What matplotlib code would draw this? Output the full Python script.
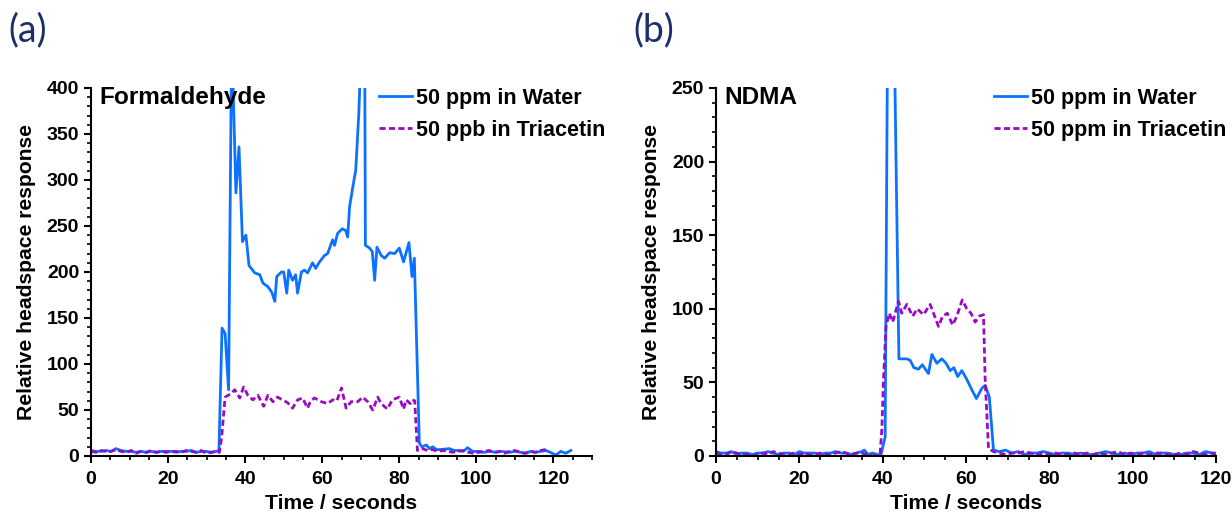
import matplotlib
matplotlib.use("Agg")
import matplotlib.pyplot as plt
from matplotlib.ticker import MultipleLocator

plt.rcParams['font.family'] = ['Liberation Sans', 'DejaVu Sans']
plt.rcParams['font.weight'] = 'bold'

# ---- (a) Formaldehyde ----
water_t_a = [0, 1.3, 2.6, 3.9, 5.2, 6.5, 7.8, 9.1, 10.4, 11.7, 13.0, 14.3, 15.6, 16.9, 18.2, 19.5,
             20.8, 22.1, 23.4, 24.7, 26.0, 27.3, 28.6, 29.9, 31.2, 32.5, 33.2, 34.0, 34.8, 35.7,
             36.5, 37.6, 38.4, 39.3, 40.2, 41.0, 42.5, 43.8, 44.6, 45.9, 46.9, 47.7, 48.2, 49.4,
             50.0, 50.8, 51.3, 52.3, 53.1, 53.6, 54.6, 55.4, 56.2, 57.5, 58.3, 59.3, 60.6, 61.4,
             62.7, 63.2, 64.0, 65.2, 66.1, 66.6, 67.1, 67.8, 68.7, 69.5, 70.3, 71.0, 71.2, 72.3,
             73.0, 73.6, 74.2, 75.3, 76.2, 77.5, 78.8, 80.0, 81.1, 82.5, 83.3, 83.9, 85.2, 85.9,
             87.0, 87.8, 88.7, 89.6, 90.7, 93.0, 94.2, 95.6, 96.6, 97.7, 99.0, 100.5, 102.0,
             103.4, 105.0, 106.5, 108.5, 110.0, 111.5, 112.9, 114.0, 115.3, 116.7, 118.0, 119.2,
             120.6, 121.9, 123.2, 124.5]
water_v_a = [6, 5, 5, 6, 5, 8, 6, 5, 5, 4, 5, 4, 5, 4, 5, 5,
             5, 4, 5, 5, 6, 4, 5, 5, 4, 5, 6, 139, 133, 72,
             460, 286, 336, 233, 240, 207, 199, 197, 188, 184, 178, 168, 195, 200,
             200, 177, 202, 191, 197, 177, 200, 202, 199, 210, 204, 211, 218, 220,
             235, 229, 242, 247, 245, 238, 271, 289, 311, 373, 470, 470, 229, 226,
             222, 191, 227, 218, 215, 221, 220, 226, 211, 232, 195, 215, 14, 10,
             12, 8, 10, 7, 7, 8, 6, 6, 5, 9, 5, 5, 4,
             5, 4, 5, 4, 5, 4, 3, 5, 4, 5, 6, 4,
             1, 5, 3, 6]

tri_t_a = [0, 1.3, 2.6, 3.9, 5.2, 6.5, 7.8, 9.1, 10.4, 11.7, 13.0, 14.3, 15.6, 16.9, 18.2, 19.5,
           20.8, 22.1, 23.4, 24.7, 26.0, 27.3, 28.6, 29.9, 31.2, 32.5, 33.3, 33.9, 34.8, 36.4,
           37.3, 38.6, 39.6, 40.7, 42.0, 43.3, 44.8, 45.9, 47.2, 48.4, 49.7, 51.0, 52.3, 53.6,
           54.9, 56.2, 57.0, 58.0, 59.8, 61.4, 62.7, 63.8, 65.0, 66.2, 67.5, 69.2, 70.5, 71.8,
           73.1, 74.4, 75.3, 76.9, 78.2, 80.0, 81.1, 81.8, 82.8, 83.4, 84.0, 84.7, 86.0, 87.3,
           88.6, 90.0, 91.3, 92.6, 94.0, 95.3, 96.6, 98.0, 99.3, 100.6, 102.0, 103.3, 104.6,
           106.0, 107.3, 108.6, 110.0, 111.3, 112.6, 114.0, 115.3, 116.6, 118.0]
tri_v_a = [5, 4, 6, 5, 5, 7, 5, 4, 6, 3, 5, 4, 6, 4, 5, 4,
           5, 5, 4, 6, 5, 4, 6, 3, 4, 5, 4, 20, 64, 68,
           72, 63, 75, 66, 61, 66, 54, 66, 59, 64, 61, 58, 52, 61,
           63, 52, 60, 63, 59, 57, 61, 60, 74, 52, 59, 59, 64, 59,
           50, 64, 57, 51, 61, 64, 51, 61, 57, 61, 60, 6, 8, 6,
           7, 5, 6, 5, 4, 5, 6, 4, 3, 4, 5, 6, 4,
           5, 3, 5, 6, 4, 3, 5, 4, 6, 7]

# ---- (b) NDMA ----
water_t_b = [0, 1.2, 2.5, 3.7, 5.0, 6.2, 7.5, 8.7, 10.0, 11.2, 12.5, 13.7, 15.0, 16.2, 17.5, 18.7,
             20.0, 21.2, 22.5, 23.7, 25.0, 26.2, 27.5, 28.7, 30.0, 31.2, 32.5, 33.7, 35.0, 35.6,
             36.5, 37.5, 38.7, 39.6, 40.6, 41.2, 42.7, 43.9, 45.8, 46.6, 47.5, 48.6, 49.5, 51.0,
             51.8, 53.0, 54.2, 55.2, 56.2, 57.1, 58.0, 59.0, 60.2, 61.4, 62.5, 63.8, 64.6, 65.6,
             66.6, 68.0, 69.5, 71.0, 72.5, 74.0, 75.5, 77.0, 78.5, 80.0, 81.5, 83.0, 84.5, 86.0,
             87.5, 89.0, 90.5, 92.0, 93.5, 95.0, 96.5, 98.0, 99.5, 101.0, 102.5, 104.0, 105.5,
             107.0, 108.5, 110.0, 111.5, 113.0, 114.5, 116.0, 117.5, 119.0, 120.0]
water_v_b = [3, 2, 2, 3, 1, 2, 2, 1, 2, 2, 3, 2, 1, 2, 2, 1,
             3, 2, 2, 2, 1, 2, 2, 3, 2, 2, 1, 2, 3, 4,
             1, 2, 1, 1, 13, 300, 300, 66, 66, 65, 60, 59, 62, 56,
             69, 63, 66, 63, 58, 60, 54, 58, 52, 45, 39, 46, 48, 40,
             4, 3, 4, 2, 3, 1, 2, 2, 3, 2, 1, 2, 2, 1,
             2, 1, 1, 2, 3, 2, 1, 2, 1, 2, 2, 3, 1,
             2, 2, 1, 1, 2, 2, 1, 3, 2, 2]

tri_t_b = [0, 1.2, 2.5, 3.7, 5.0, 6.2, 7.5, 8.7, 10.0, 11.2, 12.5, 13.7, 15.0, 16.2, 17.5, 18.7,
           20.0, 21.2, 22.5, 23.7, 25.0, 26.2, 27.5, 28.7, 30.0, 31.2, 32.5, 33.7, 35.0, 36.2,
           37.5, 38.7, 39.4, 39.8, 40.2, 40.8, 41.6, 42.4, 43.8, 44.6, 45.8, 47.2, 48.3, 49.8,
           51.4, 53.4, 54.4, 55.5, 56.8, 57.8, 59.1, 60.2, 61.2, 62.2, 63.2, 64.2, 64.6, 65.4,
           66.6, 68.0, 69.5, 71.0, 72.5, 74.0, 75.5, 77.0, 78.5, 80.0, 81.5, 83.0, 84.5, 86.0,
           87.5, 89.0, 90.5, 92.0, 93.5, 95.0, 96.5, 98.0, 99.5, 101.0, 102.5, 104.0, 105.5,
           107.0, 108.5, 110.0, 111.5, 113.0, 114.5, 116.0, 117.5, 119.0, 120.0]
tri_v_b = [2, 1, 1, 3, 2, 1, 1, 0, 1, 2, 1, 3, 2, 1, 1, 2,
           1, 2, 1, 1, 2, 1, 1, 2, 3, 2, 1, 2, 2, 1,
           0, 1, 2, 18, 52, 88, 97, 91, 105, 97, 103, 95, 100, 96,
           103, 88, 95, 97, 89, 95, 106, 100, 97, 91, 95, 96, 52, 5,
           3, 2, 1, 2, 2, 3, 2, 1, 2, 1, 2, 1, 1, 2,
           1, 2, 1, 2, 1, 2, 3, 1, 2, 1, 2, 1, 2,
           2, 1, 1, 2, 1, 3, 2, 1, 2, 1]

blue = '#0a72ff'
purple = '#9a0ac4'

panels = [
    dict(tw=water_t_a, vw=water_v_a, tt=tri_t_a, vt=tri_v_a, name='Formaldehyde',
         lw_lab='50 ppm in Water', lt_lab='50 ppb in Triacetin', xmax=130, ymax=400,
         pos=[91/1232, 60/516, 501/1232, 368/516], leg_x=0.574, tag='(a)', tag_x=8/1232),
    dict(tw=water_t_b, vw=water_v_b, tt=tri_t_b, vt=tri_v_b, name='NDMA',
         lw_lab='50 ppm in Water', lt_lab='50 ppm in Triacetin', xmax=120, ymax=250,
         pos=[716/1232, 60/516, 500/1232, 368/516], leg_x=0.555, tag='(b)', tag_x=633/1232),
]

fig = plt.figure(figsize=(12.32, 5.16), dpi=100)

for p in panels:
    ax = fig.add_axes(p['pos'])
    ax.plot(p['tw'], p['vw'], color=blue, lw=2, label=p['lw_lab'])
    ax.plot(p['tt'], p['vt'], color=purple, lw=2, dashes=(2.2, 1.2), label=p['lt_lab'])
    ax.set_xlim(0, p['xmax'])
    ax.set_ylim(0, p['ymax'])
    ax.xaxis.set_major_locator(MultipleLocator(20))
    ax.xaxis.set_minor_locator(MultipleLocator(5))
    ax.yaxis.set_major_locator(MultipleLocator(50))
    ax.yaxis.set_minor_locator(MultipleLocator(10))
    ax.spines['top'].set_visible(False)
    ax.spines['right'].set_visible(False)
    for s in ['left', 'bottom']:
        ax.spines[s].set_linewidth(1.5)
    ax.tick_params(which='major', direction='out', length=5, width=1.5, labelsize=14)
    ax.tick_params(axis='x', which='major', pad=6)
    ax.tick_params(which='minor', direction='out', length=3, width=1.2)
    for lab in ax.get_xticklabels() + ax.get_yticklabels():
        lab.set_fontweight('bold')
    ax.set_xlabel('Time / seconds', fontsize=15.2, fontweight='bold', labelpad=4)
    ax.set_ylabel('Relative headspace response', fontsize=15.2, fontweight='bold', labelpad=8)
    ax.text(0.016, 0.973, p['name'], transform=ax.transAxes, fontsize=17.6,
            fontweight='bold', va='center', ha='left')
    ax.legend(loc='upper left', bbox_to_anchor=(p['leg_x'], 1.0), frameon=False,
              prop={'size': 15.5, 'weight': 'bold'}, handlelength=1.55, handletextpad=0.2,
              labelspacing=0.5, borderpad=0, borderaxespad=0)
    fig.text(p['tag_x'], 1 - 30/516, p['tag'], fontsize=27, color='#1c2f6a',
             family=['Lato', 'DejaVu Sans'], fontweight='normal', va='center', ha='left')

fig.savefig('out.png', dpi=100)
